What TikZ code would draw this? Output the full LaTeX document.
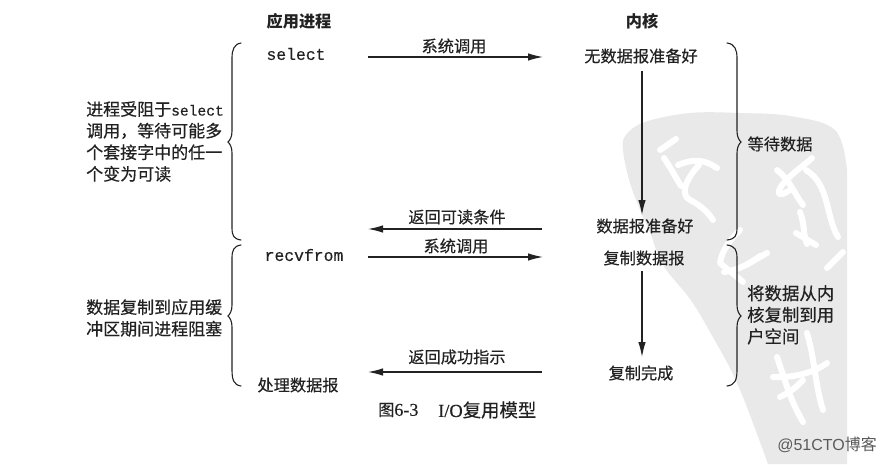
\documentclass[tikz,border=0pt]{standalone}
\usepackage{fontspec}
\setmainfont{Noto Sans CJK SC}
\newfontfamily\cjk[FakeBold=0.4]{Noto Sans CJK SC}
\newfontfamily\cjkplain{Noto Sans CJK SC}
\newfontfamily\capfont[FakeBold=0.4]{Liberation Serif}
\setmonofont[FakeBold=0.3]{Liberation Mono}
\usetikzlibrary{arrows.meta}
\definecolor{ink}{HTML}{222222}
\definecolor{wm}{HTML}{E9E9E9}
\tikzset{
 lbl/.style={font=\cjk\fontsize{16.2}{19}\selectfont,text=ink,inner sep=0pt},
 hdr/.style={font=\cjkplain\bfseries\fontsize{16.2}{19}\selectfont,text=ink,inner sep=0pt},
 code/.style={font=\ttfamily\fontsize{16.4}{19}\selectfont,text=ink,inner sep=0pt},
 side/.style={lbl,align=left,anchor=north west,font=\cjk\fontsize{17}{21.6}\selectfont},
 flow/.style={draw=ink,line width=1.2pt,-{Latex[length=15pt,width=7.5pt]}},
 brace/.style={draw=ink,line width=1.1pt,line cap=round},
 wmstroke/.style={draw=white,line width=6pt,line cap=round,line join=round}
}
\begin{document}
\begin{tikzpicture}[x=1pt,y=-1pt]
\useasboundingbox (0,0) rectangle (886,464);
\fill[white] (0,0) rectangle (886,464);
% watermark
\fill[wm] plot[smooth,tension=0.6] coordinates {(847,170) (835,130) (790,116) (740,113) (690,113) (645,122) (626,135) (623,150) (630,183) (643,217) (650,232) (663,265) (690,299) (710,332) (738,385) (768,464)} -- (847,464) -- cycle;
\draw[wmstroke] (676,139) -- (660,150);
\draw[wmstroke] (664,158) .. controls (672,170) and (676,178) .. (681,186);
\draw[wmstroke] (678,165) .. controls (695,158) and (705,160) .. (717,168);
\draw[wmstroke] (699,165) .. controls (685,180) and (680,195) .. (690,200) .. controls (700,205) and (708,212) .. (713,220);
\draw[wmstroke] (777,170) .. controls (790,180) and (795,195) .. (803,205);
\draw[wmstroke] (790,190) .. controls (775,200) and (778,190) .. (782,185) .. controls (795,170) and (805,165) .. (812,158);
\draw[wmstroke] (806,170) .. controls (830,185) and (825,215) .. (838,237);
\draw[wmstroke] (800,212) .. controls (805,225) and (803,235) .. (807,244);
\draw[wmstroke] (740,230) .. controls (730,240) and (722,250) .. (720,263) .. controls (728,270) and (735,275) .. (743,282);
\draw[wmstroke] (746,265) -- (767,253);
\draw[wmstroke] (724,272) .. controls (740,270) and (752,262) .. (760,256);
\draw[wmstroke] (796,233) -- (816,245);
\draw[wmstroke] (827,268) -- (843,252);
\draw[wmstroke] (777,357) .. controls (785,380) and (790,400) .. (803,422);
\draw[wmstroke] (773,377) .. controls (795,378) and (815,372) .. (827,363);
\draw[wmstroke] (807,333) .. controls (815,360) and (815,385) .. (823,410);
\draw[wmstroke] (780,397) .. controls (790,392) and (797,387) .. (803,380);
% headers
\node[hdr] (app) at (299,21) {应用进程};
\node[hdr] (ker) at (642,21) {内核};
% process column
\node[code] (sel) at (296,54) {select};
\node[code] (rec) at (304,255) {recvfrom};
\node[lbl] (proc) at (298,385) {处理数据报};
% kernel column
\node[lbl] (nod) at (641,56) {无数据报准备好};
\node[lbl] (rdy) at (645,226) {数据报准备好};
\node[lbl] (cpy) at (644,258) {复制数据报};
\node[lbl] (don) at (641,373) {复制完成};
% arrow ends
\coordinate (s1) at (368,57); \coordinate (e1) at (543,57);
\coordinate (s2) at (542,229); \coordinate (e2) at (368,229);
\coordinate (s3) at (368,257); \coordinate (e3) at (543,257);
\coordinate (s4) at (542,372); \coordinate (e4) at (368,372);
\coordinate (v1s) at (642,71); \coordinate (v1e) at (642,215);
\coordinate (v2s) at (642,271); \coordinate (v2e) at (642,357);
\draw[flow] (s1) -- (e1);
\draw[flow] (s2) -- (e2);
\draw[flow] (s3) -- (e3);
\draw[flow] (s4) -- (e4);
\draw[flow] (v1s) -- (v1e);
\draw[flow] (v2s) -- (v2e);
% arrow labels
\node[lbl] (t1) at (454,46) {系统调用};
\node[lbl] (t2) at (457,217) {返回可读条件};
\node[lbl] (t3) at (456,246) {系统调用};
\node[lbl] (t4) at (457,357) {返回成功指示};
% left braces
\draw[brace] (241,43) .. controls (234,44) and (232,50) .. (232,58) -- (232,131)
 .. controls (232,137) and (230,140) .. (228,142) .. controls (230,144) and (232,147) .. (232,153)
 -- (232,228) .. controls (232,236) and (234,239) .. (241,240);
\draw[brace] (241,245) .. controls (234,246) and (232,250) .. (232,258) -- (232,305)
 .. controls (232,311) and (230,314) .. (228,316) .. controls (230,318) and (232,321) .. (232,327)
 -- (232,370) .. controls (232,380) and (234,385) .. (241,386);
% right braces
\draw[brace] (727,43) .. controls (735,44) and (737,50) .. (737,58) -- (737,131)
 .. controls (737,137) and (739,140) .. (741,142) .. controls (739,144) and (737,147) .. (737,153)
 -- (737,228) .. controls (737,236) and (735,239) .. (727,240);
\draw[brace] (727,245) .. controls (735,246) and (737,250) .. (737,258) -- (737,305)
 .. controls (737,311) and (739,314) .. (741,316) .. controls (739,318) and (737,321) .. (737,327)
 -- (737,370) .. controls (737,380) and (735,385) .. (727,386);
% side texts
\node[side] (n1) at (86,101) {进程受阻于{\ttfamily\fontsize{14.6}{17}\selectfont select}\\调用，等待可能多\\个套接字中的任一\\个变为可读};
\node[side] (n2) at (86,299) {数据复制到应用缓\\冲区期间进程阻塞};
\node[lbl] (n3) at (780,144) {等待数据};
\node[side,font=\cjk\fontsize{17.4}{21.6}\selectfont] (n4) at (747,285) {将数据从内\\核复制到用\\户空间};
% caption
\node[lbl,anchor=west] (c1) at (378,410) {图{\capfont\fontsize{18}{20}\selectfont 6-3}};
\node[lbl,anchor=west,font=\cjk\fontsize{18.4}{20}\selectfont] (c2) at (438,410) {{\capfont I/O}复用模型};
% credit
\node[font=\fontspec{Liberation Sans}\fontsize{16}{18}\selectfont,text=ink!75,inner sep=0pt,anchor=east] (wmk) at (877,445) {@51CTO{\cjkplain 博客}};
\end{tikzpicture}
\end{document}
